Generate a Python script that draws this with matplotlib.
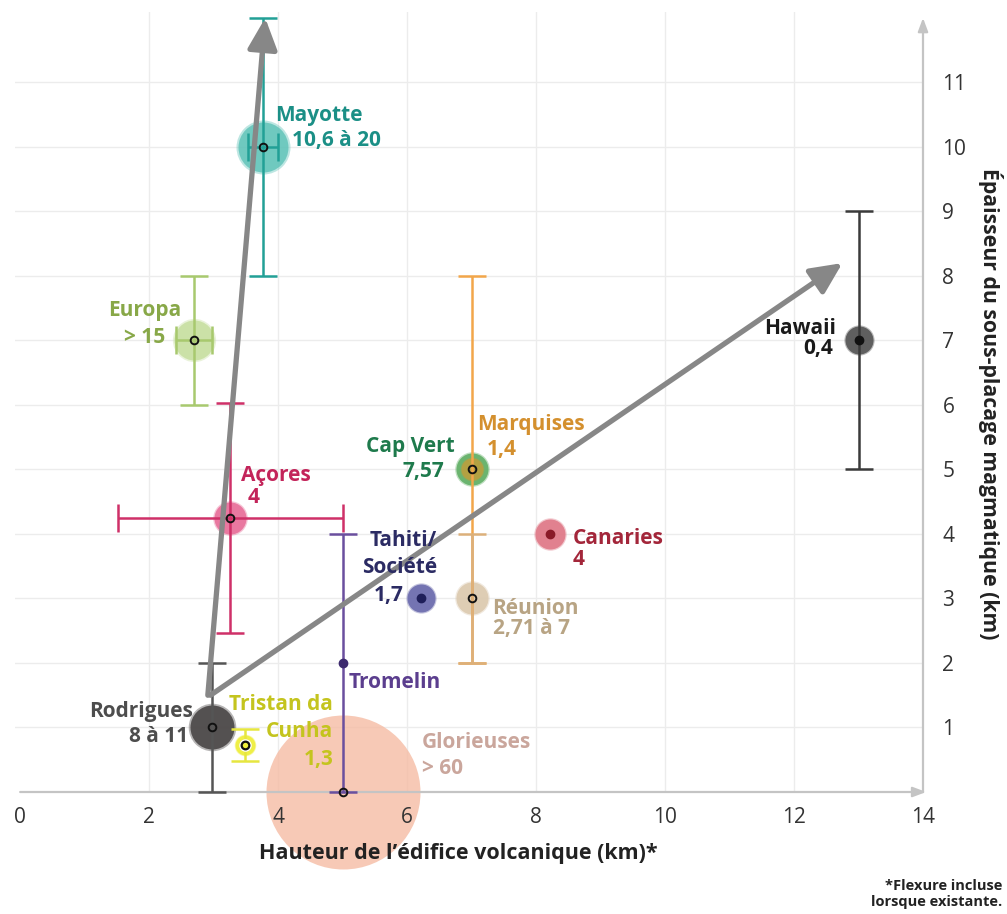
import matplotlib.pyplot as plt
from matplotlib.patches import FancyArrowPatch

plt.rcParams['font.family'] = ['Open Sans', 'DejaVu Sans']

# --- donnees ---
sites = ['Mayotte', 'Europa', 'Açores', 'Rodrigues', 'Tristan da Cunha', 'Tromelin',
         'Glorieuses', 'Tahiti/Société', 'Cap Vert', 'Marquises', 'Réunion', 'Canaries', 'Hawaii']
hauteur = [3.77, 2.70, 3.26, 2.98, 3.49, 5.0, 5.0, 6.22, 7.0, 7.0, 7.0, 8.22, 13.0]
epaisseur = [10.0, 7.0, 4.25, 1.0, 0.73, 2.0, 0.0, 3.0, 5.0, 5.0, 3.0, 4.0, 7.0]
err_bas = [2.0, 1.0, 1.78, 1.0, 0.25, 2.0, 0.0, 0.0, 0.0, 3.0, 1.0, 0.0, 2.0]
err_haut = [2.0, 1.0, 1.78, 1.0, 0.25, 2.0, 0.0, 0.0, 0.0, 3.0, 1.0, 0.0, 2.0]
err_x = [0.23, 0.28, 1.75, 0, 0, 0, 0, 0, 0, 0, 0, 0, 0]
ages = ['10,6 à 20', '> 15', '4', '8 à 11', '1,3', '', '> 60', '1,7', '7,57', '1,4',
        '2,71 à 7', '4', '0,4']

# tendances (debut -> pointe de fleche)
fleche_x0 = [2.91, 2.95]
fleche_y0 = [1.5, 1.5]
fleche_x1 = [3.80, 12.75]
fleche_y1 = [12.0, 8.2]

x_ticks = [0, 2, 4, 6, 8, 10, 12, 14]
y_ticks = [1, 2, 3, 4, 5, 6, 7, 8, 9, 10, 11]

# --- styles ---
couleur_barre = {'Mayotte': '#22a096', 'Europa': '#a8c96e', 'Açores': '#cf3068',
                 'Rodrigues': '#555555', 'Tristan da Cunha': '#e6e640', 'Tromelin': '#6a4f9e',
                 'Marquises': '#f2a64a', 'Réunion': '#dcb07a', 'Hawaii': '#3a3a3a'}
couleur_halo = {'Mayotte': '#5cc2b7', 'Europa': '#c8e0a2', 'Açores': '#e8709a',
                'Rodrigues': '#4a4646', 'Tristan da Cunha': '#efef3c', 'Glorieuses': '#f5bca4',
                'Tahiti/Société': '#6c6cae', 'Cap Vert': '#62b066', 'Marquises': '#b8a040',
                'Réunion': '#dccab0', 'Canaries': '#e07a88', 'Hawaii': '#555555'}
rayon_halo = {'Mayotte': 25, 'Europa': 20, 'Açores': 16, 'Rodrigues': 22,
              'Tristan da Cunha': 10, 'Glorieuses': 77, 'Tahiti/Société': 14,
              'Cap Vert': 16, 'Marquises': 11, 'Réunion': 16, 'Canaries': 15, 'Hawaii': 14}
couleur_texte = {'Mayotte': '#1b8f86', 'Europa': '#88a848', 'Açores': '#c3245a',
                 'Rodrigues': '#4d4d4d', 'Tristan da Cunha': '#c4c41e', 'Tromelin': '#5b3e8e',
                 'Glorieuses': '#caa69c', 'Tahiti/Société': '#2b2b63', 'Cap Vert': '#1e7a4c',
                 'Marquises': '#d4902e', 'Réunion': '#b8a484', 'Canaries': '#a3263a',
                 'Hawaii': '#1a1a1a'}
point_plein = {'Tromelin': '#3d2a6e', 'Tahiti/Société': '#1f1f5a', 'Canaries': '#8a1a28',
               'Hawaii': '#111111'}

# etiquettes : (texte, decalage en pixels, alignement)
etiquettes = {
    'Mayotte': [('Mayotte', 12, 31, 'left'), (ages[0], 29, 6, 'left')],
    'Europa': [('Europa', -13, 30, 'right'), (ages[1], -29, 3, 'right')],
    'Açores': [('Açores', 11, 42, 'left'), (ages[2], 17, 20, 'left')],
    'Rodrigues': [('Rodrigues', -19, 16, 'right'), (ages[3], -24, -9, 'right')],
    'Tristan da Cunha': [('Tristan da', 88, 40, 'right'), ('Cunha', 88, 13, 'right'),
                         (ages[4], 88, -15, 'right')],
    'Tromelin': [('Tromelin', 6, -20, 'left')],
    'Glorieuses': [('Glorieuses', 79, 50, 'left'), (ages[6], 79, 24, 'left')],
    'Tahiti/Société': [('Tahiti/', -18, 58, 'center'), ('Société', -22, 31, 'center'),
                       (ages[7], -18, 3, 'right')],
    'Cap Vert': [('Cap Vert', -17, 23, 'right'), (ages[8], -27, -2, 'right')],
    'Marquises': [('Marquises', 6, 45, 'left'), (ages[9], 15, 20, 'left')],
    'Réunion': [('Réunion', 21, -10, 'left'), (ages[10], 21, -30, 'left')],
    'Canaries': [('Canaries', 22, -5, 'left'), (ages[11], 22, -26, 'left')],
    'Hawaii': [('Hawaii', -23, 12, 'right'), (ages[12], -25, -8, 'right')],
}


def taille(r_px):
    return (2 * r_px * 0.72) ** 2


fig = plt.figure(figsize=(10.07, 9.14), dpi=100)
ax = fig.add_axes([15 / 1007, 122 / 914, 908 / 1007, 780.5 / 914])
ax.set_xlim(-0.08, 14)
ax.set_ylim(0, 12.1)
for s in ax.spines.values():
    s.set_visible(False)

# grille
for gx in x_ticks[1:-1]:
    ax.axvline(gx, color='#ececec', lw=1, zorder=0)
for gy in y_ticks:
    ax.axhline(gy, color='#ececec', lw=1, zorder=0)

# axes avec fleches
ax.annotate('', xy=(14.05, 0), xytext=(0, 0), annotation_clip=False,
            arrowprops=dict(arrowstyle='-|>,head_length=0.8,head_width=0.3', color='#c4c4c4',
                            lw=1.6, shrinkA=0, shrinkB=0))
ax.annotate('', xy=(14, 12.0), xytext=(14, 0), annotation_clip=False,
            arrowprops=dict(arrowstyle='-|>,head_length=0.8,head_width=0.3', color='#c4c4c4',
                            lw=1.6, shrinkA=0, shrinkB=0))

# halos
for i, nom in enumerate(sites):
    if nom in couleur_halo:
        if nom != 'Glorieuses':
            ax.scatter(hauteur[i], epaisseur[i], s=taille(rayon_halo[nom] * 1.08),
                       color=couleur_halo[nom], alpha=0.4, lw=0, zorder=1, clip_on=False)
        alpha = 0.8 if nom in ('Glorieuses', 'Mayotte') else 0.9
        ax.scatter(hauteur[i], epaisseur[i], s=taille(rayon_halo[nom]),
                   color=couleur_halo[nom], alpha=alpha, lw=0, zorder=1, clip_on=False)

# barres d'erreur
for i, nom in enumerate(sites):
    if nom in couleur_barre:
        ax.errorbar(hauteur[i], epaisseur[i], yerr=[[err_bas[i]], [err_haut[i]]],
                    xerr=err_x[i] if err_x[i] else None, fmt='none',
                    ecolor=couleur_barre[nom], elinewidth=1.8, capsize=10, capthick=1.8,
                    zorder=3, clip_on=False)

# fleches de tendance
for x0, y0, x1, y1 in zip(fleche_x0, fleche_y0, fleche_x1, fleche_y1):
    ax.add_patch(FancyArrowPatch((x0, y0), (x1, y1),
                                 arrowstyle='-|>,head_length=0.95,head_width=0.45',
                                 mutation_scale=20, lw=3.8, color='#878787',
                                 shrinkA=0, shrinkB=0, zorder=4, clip_on=False))

# points centraux
for i, nom in enumerate(sites):
    if nom == 'Tristan da Cunha':
        ax.plot(hauteur[i], epaisseur[i], 'o', ms=9, mfc='white', mec='#efef3c', mew=0,
                zorder=5)
        ax.plot(hauteur[i], epaisseur[i], 'o', ms=5.5, mfc='#efef3c', mec='#111',
                mew=1.6, zorder=6)
    elif nom in point_plein:
        ax.plot(hauteur[i], epaisseur[i], 'o', ms=6, color=point_plein[nom], zorder=6)
    elif nom != 'Marquises':
        ax.plot(hauteur[i], epaisseur[i], 'o', ms=5.5, mfc='none', mec='#111',
                mew=1.4, zorder=6, clip_on=False)

# etiquettes
for i, nom in enumerate(sites):
    for texte, dx, dy, ha in etiquettes[nom]:
        ax.annotate(texte, (hauteur[i], epaisseur[i]), xytext=(dx, dy),
                    textcoords='offset pixels', ha=ha, va='center', fontsize=15,
                    fontweight='bold', color=couleur_texte[nom], zorder=7,
                    annotation_clip=False)

# graduations
ax.set_xticks(x_ticks)
ax.set_yticks(y_ticks)
ax.yaxis.tick_right()
ax.tick_params(axis='both', length=0, labelsize=15, labelcolor='#333333')
ax.tick_params(axis='x', pad=11)
ax.tick_params(axis='y', pad=14)

fig.text(458 / 1007, 1 - 854 / 914, 'Hauteur de l\u2019édifice volcanique (km)*',
         ha='center', va='center', fontsize=15.5, fontweight='bold', color='#222222')
fig.text(990 / 1007, 1 - 404 / 914, 'Épaisseur du sous-placage magmatique (km)',
         ha='center', va='center', rotation=270, fontsize=15.3, fontweight='bold',
         color='#222222')
fig.text(1002 / 1007, 1 - 894 / 914, '*Flexure incluse\nlorsque existante.',
         ha='right', va='center', fontsize=10.5, fontweight='bold', color='#222222',
         linespacing=1.25)

fig.savefig('out.png', dpi=100)
